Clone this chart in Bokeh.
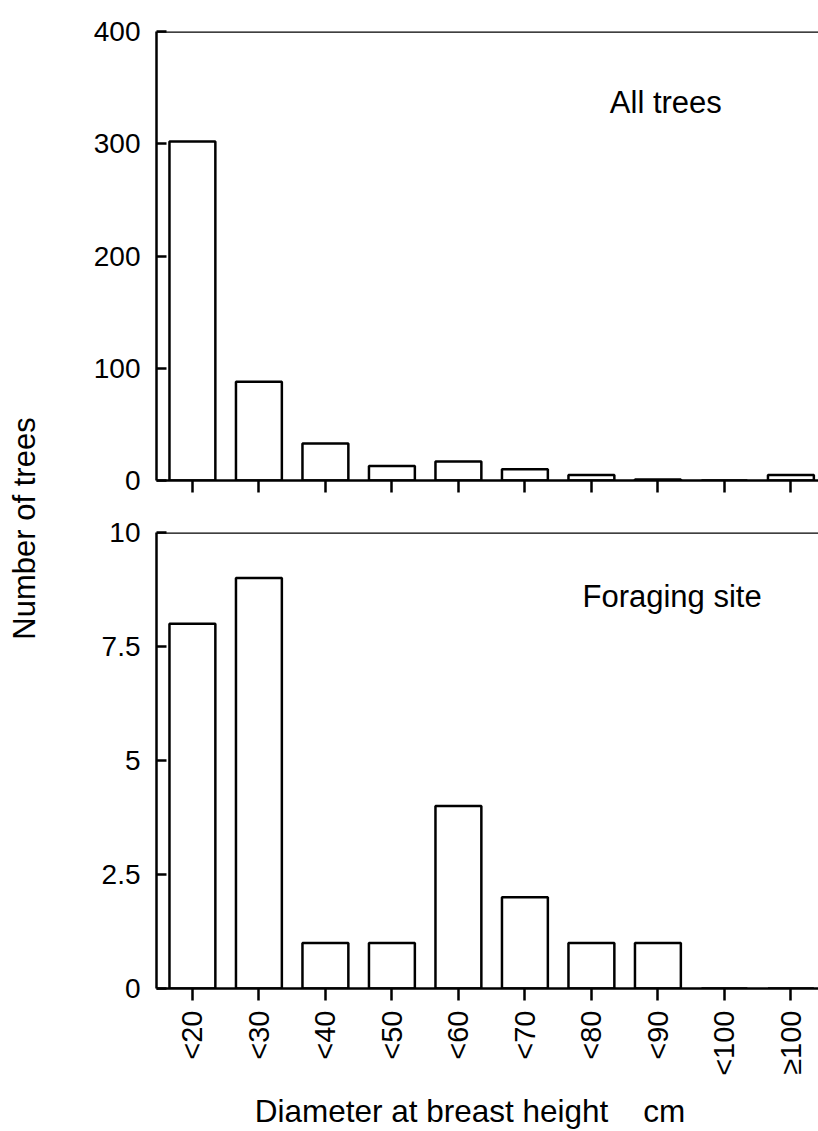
import math
from bokeh.plotting import figure
from bokeh.layouts import row, column
from bokeh.models import Range1d, FixedTicker, Label, Span
from bokeh.embed import file_html
from bokeh.resources import INLINE

# ---- data ----
categories = ["<20", "<30", "<40", "<50", "<60", "<70", "<80", "<90", "<100", "\u2265100"]
all_trees = [302, 88, 33, 13, 17, 10, 5, 1, 0, 5]
foraging_site = [8, 9, 1, 1, 4, 2, 1, 1, 0, 0]
top_ticks = [0, 100, 200, 300, 400]
bottom_ticks = [0, 2.5, 5, 7.5, 10]
bottom_tick_labels = ["0", "2.5", "5", "7.5", "10"]
y_title = "Number of trees"
x_title = "Diameter at breast height\u00a0\u00a0\u00a0\u00a0cm"
top_note = "All trees"
bottom_note = "Foraging site"

FONT = "Liberation Sans"
x_idx = list(range(len(categories)))
X0, X1 = -0.54, -0.54 + 662 / 66.5
BAR_W = 0.69
LW = 2.5


def base_fig(height, ymax, border_top, border_bottom):
    p = figure(width=750, height=height, output_backend="svg", toolbar_location=None,
               x_range=Range1d(X0, X1), y_range=Range1d(0, ymax),
               min_border_left=88, min_border_right=0,
               min_border_top=border_top, min_border_bottom=border_bottom)
    p.outline_line_color = None
    p.xgrid.visible = False
    p.ygrid.visible = False
    p.background_fill_color = "white"
    p.border_fill_color = "white"
    for ax in (p.xaxis[0], p.yaxis[0]):
        ax.axis_line_width = LW
        ax.axis_line_color = "black"
        ax.major_tick_line_width = LW
        ax.major_tick_line_color = "black"
        ax.minor_tick_line_color = None
        ax.major_label_text_font = FONT
        ax.major_label_text_color = "black"
    xa = p.xaxis[0]
    xa.ticker = FixedTicker(ticks=x_idx)
    xa.major_tick_in = 0
    xa.major_tick_out = 12
    ya = p.yaxis[0]
    ya.major_tick_in = 10
    ya.major_tick_out = 0
    ya.major_label_standoff = 16
    ya.major_label_text_font_size = "28px"
    p.add_layout(Span(location=ymax, dimension="width", line_color="black", line_width=LW))
    return p


# ---- top panel ----
top = base_fig(506, 400, 31, 26)
top.yaxis[0].ticker = FixedTicker(ticks=top_ticks)
top.yaxis[0].major_label_overrides = {t: str(t) for t in top_ticks}
top.xaxis[0].major_label_overrides = {i: "" for i in x_idx}
top.xaxis[0].major_label_text_font_size = "10px"
top.xaxis[0].major_label_standoff = 0
top.vbar(x=x_idx, top=all_trees, width=BAR_W, bottom=0,
         fill_color="white", line_color="black", line_width=LW)
top.add_layout(Label(x=6.277, y=336.8, text=top_note, text_font=FONT,
                     text_font_size="31px", text_align="left",
                     text_baseline="alphabetic", text_color="black"))

# ---- bottom panel ----
bottom = base_fig(625, 10, 26, 143)
bottom.yaxis[0].ticker = FixedTicker(ticks=bottom_ticks)
bottom.yaxis[0].major_label_overrides = {t: l for t, l in zip(bottom_ticks, bottom_tick_labels)}
bx = bottom.xaxis[0]
bx.major_label_overrides = {i: c for i, c in zip(x_idx, categories)}
bx.major_label_orientation = math.pi / 2
bx.major_label_text_font_size = "29px"
bx.major_label_standoff = 10
# trailing no-break spaces shift the centred title left, as in the reference
bx.axis_label = x_title + "\u00a0" * 4
bx.axis_label_text_font = FONT
bx.axis_label_text_font_size = "31.5px"
bx.axis_label_text_font_style = "normal"
bx.axis_label_text_color = "black"
bx.axis_label_standoff = 14
bottom.vbar(x=x_idx, top=foraging_site, width=BAR_W, bottom=0,
            fill_color="white", line_color="black", line_width=LW)
bottom.add_layout(Label(x=5.866, y=8.59, text=bottom_note, text_font=FONT,
                        text_font_size="31px", text_align="left",
                        text_baseline="alphabetic", text_color="black"))

# ---- shared y title ----
lab = figure(width=68, height=1131, output_backend="svg", toolbar_location=None,
             x_range=Range1d(0, 68), y_range=Range1d(1131, 0),
             min_border=0, min_border_left=0, min_border_right=0,
             min_border_top=0, min_border_bottom=0)
lab.axis.visible = False
lab.grid.visible = False
lab.outline_line_color = None
lab.add_layout(Label(x=24, y=528, text=y_title, text_font=FONT, text_font_size="31px",
                     angle=math.pi / 2, text_align="center", text_baseline="middle",
                     text_color="black"))

layout = row(lab, column(top, bottom))
open("out.html", "w").write(file_html(layout, INLINE))
